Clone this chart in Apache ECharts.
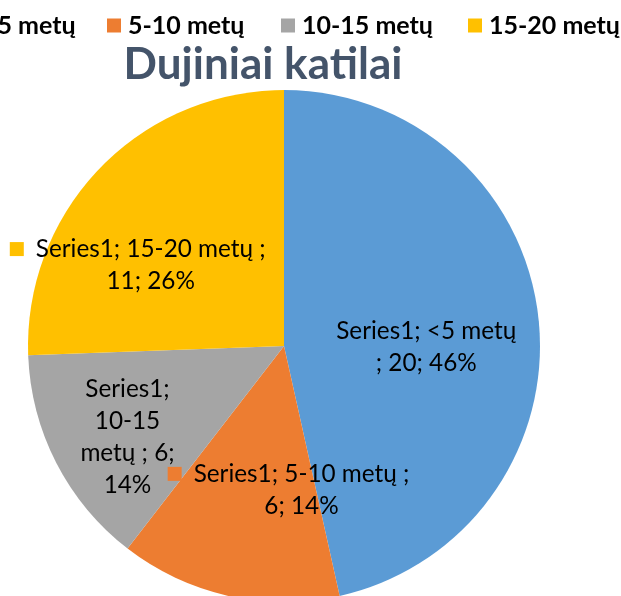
<!DOCTYPE html>
<html>
<head>
<meta charset="utf-8">
<script src="https://cdn.jsdelivr.net/npm/echarts@6/dist/echarts.min.js"></script>
<style>
  html, body { margin: 0; padding: 0; background: #fff; }
  #chart { width: 621px; height: 596px; }
</style>
</head>
<body>
<div id="chart"></div>
<script>
// ---- data ----
const seriesName = 'Series1';
const categories = ['<5 metų', '5-10 metų', '10-15 metų', '15-20 metų'];
const values = [20, 6, 6, 11];
const colors = ['#5B9BD5', '#ED7D31', '#A5A5A5', '#FFC000'];
const titleText = 'Dujiniai katilai';

// label presentation (wrap style, key marker, nudge from default inside position)
const wrapStyle = ['afterName', 'beforeValue', 'narrow', 'beforeValue'];
const showKey = [false, true, false, true];
const labelNudge = [[12, 15], [33, 16], [-40, 31], [-52, 10]];
const legendLeft = [-38, 107, 281, 468];

const FONT = 'Lato, "Open Sans", sans-serif';

function buildLabel(p) {
  const i = p.dataIndex;
  const name = p.name, v = p.value, pct = p.percent + '%';
  let lines;
  if (wrapStyle[i] === 'afterName') {
    lines = [seriesName + '; ' + name, '; ' + v + '; ' + pct];
  } else if (wrapStyle[i] === 'beforeValue') {
    lines = [seriesName + '; ' + name + ' ;', v + '; ' + pct];
  } else {
    const parts = name.split(' ');
    lines = [seriesName + ';', parts[0], parts.slice(1).join(' ') + ' ; ' + v + ';', pct];
  }
  if (showKey[i]) {
    return '{k' + i + '|}{t|' + lines[0] + '}\n{p|' + lines.slice(1).join('}\n{p|') + '}';
  }
  return lines.map(l => '{n|' + l + '}').join('\n');
}

const LF = 24.3;
const rich = {
  n: { fontFamily: FONT, fontSize: LF, lineHeight: 32, color: '#000' },
  t: { fontFamily: FONT, fontSize: LF, lineHeight: 32, color: '#000', padding: [0, 0, 0, 12] },
  p: { fontFamily: FONT, fontSize: LF, lineHeight: 32, color: '#000', padding: [0, 0, 0, 26] }
};
colors.forEach((c, i) => {
  rich['k' + i] = { width: 14, height: 14, backgroundColor: c, lineHeight: 32 };
});

const chart = echarts.init(document.getElementById('chart'), null, { renderer: 'canvas' });
chart.setOption({
  animation: false,
  color: colors,
  title: {
    text: titleText,
    left: 263,
    textAlign: 'center',
    top: 43,
    padding: 0,
    textStyle: { fontFamily: FONT, fontSize: 44, fontWeight: 'bold', color: '#44546A' }
  },
  legend: categories.map((c, i) => ({
    data: [c],
    left: legendLeft[i],
    top: 13,
    padding: 0,
    itemWidth: 14,
    itemHeight: 14,
    itemGap: 0,
    selectedMode: false,
    icon: 'rect',
    textStyle: { fontFamily: FONT, fontSize: 25, fontWeight: 'bold', color: '#000', padding: [0, 0, 0, 2] }
  })),
  series: [{
    type: 'pie',
    name: seriesName,
    center: [284, 346],
    radius: 256,
    startAngle: 90,
    clockwise: true,
    percentPrecision: 0,
    avoidLabelOverlap: false,
    label: {
      show: true,
      position: 'inside',
      formatter: buildLabel,
      rich: rich,
      align: 'center'
    },
    labelLine: { show: false },
    labelLayout: function (params) {
      const n = labelNudge[params.dataIndex];
      return { dx: n[0], dy: n[1] };
    },
    emphasis: { disabled: true },
    itemStyle: { borderWidth: 0 },
    data: categories.map((c, i) => ({ name: c, value: values[i] }))
  }]
});
</script>
</body>
</html>
